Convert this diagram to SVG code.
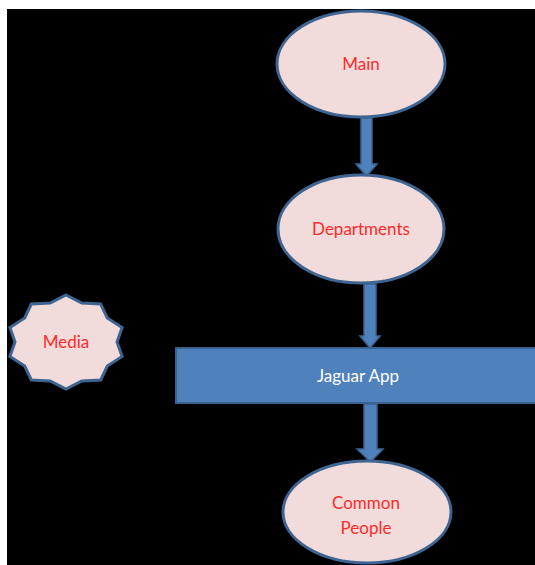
<svg xmlns="http://www.w3.org/2000/svg" width="535" height="565" viewBox="0 0 535 565">
<style>
.node{fill:#F2DCDB;stroke:#3E6491;stroke-width:3}
.lbl{font-family:Lato,"Open Sans",sans-serif;font-size:17px;fill:#FF2A2A;text-anchor:middle}
.arr{fill:#4F81BD;stroke:#3A6391;stroke-width:1.5}
</style>
<rect x="0" y="0" width="535" height="565" fill="#FFFFFF"/>
<rect x="7" y="9" width="528" height="556" fill="#000000"/>
<g id="connectors">
<path class="arr" d="M361,118 L372,118 L372,164 L377,164 L366.5,176 L356,164 L361,164 Z"/>
<path class="arr" d="M364,284 L376,284 L376,336 L380,336 L370,348 L360,336 L364,336 Z"/>
<path class="arr" d="M364,404 L377,404 L377,449 L383,449 L370.5,462 L357,449 L364,449 Z"/>
</g>
<g id="main">
<ellipse class="node" cx="361" cy="64" rx="84" ry="53"/>
<text class="lbl" x="361" y="70">Main</text>
</g>
<g id="departments">
<ellipse class="node" cx="361" cy="229" rx="83" ry="54"/>
<text class="lbl" x="361" y="235">Departments</text>
</g>
<g id="jaguar-app">
<rect x="176" y="348" width="362" height="55" fill="#4F81BD" stroke="#3A6391" stroke-width="2"/>
<text x="358" y="382" font-family="Lato,'Open Sans',sans-serif" font-size="17" fill="#FFFFFF" text-anchor="middle">Jaguar App</text>
</g>
<g id="common-people">
<ellipse class="node" cx="367" cy="512" rx="84" ry="51"/>
<text class="lbl" x="366" y="509">Common</text>
<text class="lbl" x="366" y="534">People</text>
</g>
<g id="media">
<path class="node" d="M66,295 L81.8,303 L100.7,304 L107.3,317.9 L122.1,327.5 L117,342 L122.1,356.5 L107.3,366.1 L100.7,380 L81.8,381 L66,389 L50.2,381 L31.3,380 L24.7,366.1 L9.9,356.5 L15,342 L9.9,327.5 L24.7,317.9 L31.3,304 L50.2,303 Z"/>
<text class="lbl" x="66" y="348">Media</text>
</g>
</svg>
